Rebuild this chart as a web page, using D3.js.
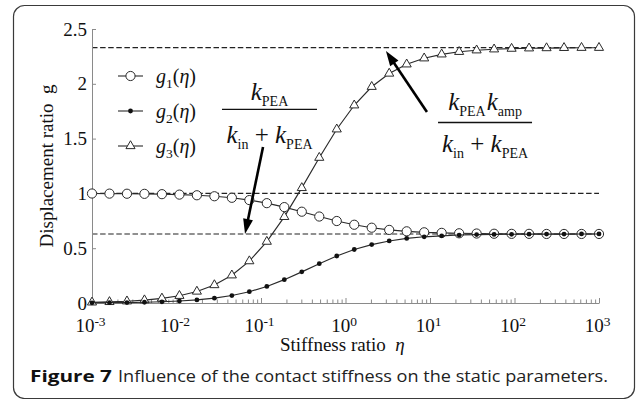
<!DOCTYPE html>
<html><head><meta charset="utf-8">
<script src="https://cdn.jsdelivr.net/npm/d3@7"></script>
<style>
html,body{margin:0;padding:0;background:#fff;}
svg{display:block;}
</style></head>
<body>
<svg id="chart" width="637" height="399"></svg>
<script>
// ---- data ----
const eta = [0.001, 0.00161, 0.002593, 0.004175, 0.006723, 0.01083, 0.01743, 0.02807, 0.0452, 0.07279,
  0.1172, 0.1887, 0.3039, 0.4894, 0.788, 1.269, 2.043, 3.29, 5.298, 8.532,
  13.74, 22.12, 35.62, 57.36, 92.37, 148.7, 239.5, 385.7, 621.0, 1000];
const g1 = [0.999, 0.998, 0.997, 0.996, 0.993, 0.989, 0.983, 0.974, 0.960, 0.939,
  0.911, 0.875, 0.833, 0.789, 0.748, 0.714, 0.687, 0.667, 0.654, 0.645,
  0.640, 0.636, 0.634, 0.632, 0.631, 0.631, 0.630, 0.630, 0.630, 0.630];
const g2 = [0.002, 0.003, 0.004, 0.007, 0.011, 0.018, 0.028, 0.044, 0.068, 0.103,
  0.151, 0.213, 0.284, 0.359, 0.429, 0.488, 0.533, 0.566, 0.589, 0.604,
  0.613, 0.620, 0.624, 0.626, 0.627, 0.628, 0.629, 0.629, 0.630, 0.630];
const g3 = [0.006, 0.010, 0.016, 0.026, 0.042, 0.066, 0.105, 0.164, 0.253, 0.382,
  0.560, 0.786, 1.050, 1.326, 1.585, 1.804, 1.973, 2.094, 2.178, 2.233,
  2.269, 2.292, 2.306, 2.315, 2.321, 2.324, 2.326, 2.328, 2.329, 2.329];
const refLevels = [2.33, 1.0, 0.63];
const yTicks = [0, 0.5, 1, 1.5, 2, 2.5];
const yTickLabels = ["0", "0.5", "1", "1.5", "2", "2.5"];
const xTicks = [1e-3, 1e-2, 1e-1, 1e0, 1e1, 1e2, 1e3];
const xTickExps = ["-3", "-2", "-1", "0", "1", "2", "3"];
const seriesNames = ["1", "2", "3"];
const captionBold = "Figure 7";
const captionText = "Influence of the contact stiffness on the static parameters.";

// ---- layout ----
const svg = d3.select("#chart");
const serif = "'Liberation Serif','Times New Roman',serif";
const x = d3.scaleLog().domain([1e-3, 1e3]).range([92, 599]);
const y = d3.scaleLinear().domain([0, 2.5]).range([303, 29]);
const axisColor = "#8a8a8a";

// border
svg.append("rect").attr("x", 13.5).attr("y", 5.5).attr("width", 621).attr("height", 393)
  .attr("rx", 11).attr("fill", "none").attr("stroke", "#3a3a3a").attr("stroke-width", 1.2);

// reference dashed lines
svg.append("g").selectAll("line").data(refLevels).join("line")
  .attr("x1", x(1e-3)).attr("x2", x(1e3))
  .attr("y1", d => y(d)).attr("y2", d => y(d))
  .attr("stroke", "#222").attr("stroke-width", 1.1).attr("stroke-dasharray", "5.5,2.6");

// axes
const yAxis = d3.axisLeft(y).tickValues(yTicks).tickFormat((d, i) => yTickLabels[i])
  .tickSizeInner(-4).tickSizeOuter(0).tickPadding(5);
const gy = svg.append("g").attr("transform", `translate(${x(1e-3)},0)`).call(yAxis);
gy.select(".domain").attr("stroke", axisColor);
gy.selectAll(".tick line").attr("stroke", axisColor);
gy.selectAll(".tick text").attr("font-family", serif).attr("font-size", 19).attr("fill", "#111");

const minor = [];
for (let e = -3; e < 3; e++) for (let m = 2; m <= 9; m++) minor.push(m * Math.pow(10, e));
const xMinor = d3.axisBottom(x).tickValues(minor).tickFormat("").tickSizeInner(-3.5).tickSizeOuter(0);
const gxm = svg.append("g").attr("transform", `translate(0,${y(0)})`).call(xMinor);
gxm.select(".domain").remove();
gxm.selectAll(".tick line").attr("stroke", axisColor);

const xAxis = d3.axisBottom(x).tickValues(xTicks).tickFormat("").tickSizeInner(-5).tickSizeOuter(0);
const gx = svg.append("g").attr("transform", `translate(0,${y(0)})`).call(xAxis);
gx.select(".domain").attr("stroke", axisColor);
gx.selectAll(".tick line").attr("stroke", axisColor);
gx.selectAll(".tick").each(function(d, i) {
  const t = d3.select(this).append("text").attr("y", 29).attr("dx", -2)
    .attr("text-anchor", "middle").attr("font-family", serif).attr("fill", "#111");
  t.append("tspan").attr("font-size", 19).text("10");
  t.append("tspan").attr("font-size", 13.5).attr("dy", -6).text(xTickExps[i]);
});

// axis titles
svg.append("text").attr("transform", "translate(53,166) rotate(-90)")
  .attr("text-anchor", "middle").attr("font-family", serif).attr("font-size", 19).attr("fill", "#111")
  .attr("xml:space", "preserve").text("Displacement ratio  g");
const xl = svg.append("text").attr("x", 280).attr("y", 351)
  .attr("font-family", serif).attr("font-size", 19).attr("fill", "#111").attr("xml:space", "preserve");
xl.append("tspan").text("Stiffness ratio  ");
xl.append("tspan").attr("font-style", "italic").text("η");

// series
const line = d3.line().x(d => x(d[0])).y(d => y(d[1]));
const lineColor = "#2a2a2a";
const tri = d3.symbol().type(d3.symbolTriangle).size(36);
function drawLine(vals) {
  svg.append("path").datum(eta.map((e, i) => [e, vals[i]])).attr("d", line)
    .attr("fill", "none").attr("stroke", lineColor).attr("stroke-width", 1.15);
}
drawLine(g3);
svg.append("g").selectAll("path").data(eta.map((e, i) => [e, g3[i]])).join("path")
  .attr("d", tri).attr("transform", d => `translate(${x(d[0])},${y(d[1])})`)
  .attr("fill", "#fff").attr("stroke", lineColor).attr("stroke-width", 1);
drawLine(g1);
svg.append("g").selectAll("circle").data(eta.map((e, i) => [e, g1[i]])).join("circle")
  .attr("cx", d => x(d[0])).attr("cy", d => y(d[1])).attr("r", 4.6)
  .attr("fill", "#fff").attr("stroke", lineColor).attr("stroke-width", 1);
drawLine(g2);
svg.append("g").selectAll("circle").data(eta.map((e, i) => [e, g2[i]])).join("circle")
  .attr("cx", d => x(d[0])).attr("cy", d => y(d[1])).attr("r", 2.4)
  .attr("fill", "#111");

// legend
const legY = [76, 111, 146];
const leg = svg.append("g");
seriesNames.forEach((n, i) => {
  const ly = legY[i];
  leg.append("line").attr("x1", 118).attr("x2", 143).attr("y1", ly).attr("y2", ly)
    .attr("stroke", lineColor).attr("stroke-width", 1.1);
  if (i === 0) leg.append("circle").attr("cx", 130.5).attr("cy", ly).attr("r", 4.6)
    .attr("fill", "#fff").attr("stroke", lineColor);
  if (i === 1) leg.append("circle").attr("cx", 130.5).attr("cy", ly).attr("r", 2.4).attr("fill", "#111");
  if (i === 2) leg.append("path").attr("d", tri).attr("transform", `translate(130.5,${ly})`)
    .attr("fill", "#fff").attr("stroke", lineColor);
  const t = leg.append("text").attr("x", 156).attr("y", ly + 6.5)
    .attr("font-family", serif).attr("font-size", 20).attr("fill", "#111");
  t.append("tspan").attr("font-style", "italic").text("g");
  t.append("tspan").attr("font-size", 13.5).attr("dy", 5).text(n);
  t.append("tspan").attr("dy", -5).text("(");
  t.append("tspan").attr("font-style", "italic").text("η");
  t.append("tspan").text(")");
});

// fraction annotations
function term(textSel, parts) {
  let shift = 0;
  parts.forEach(p => {
    const ts = textSel.append("tspan");
    if (p.sub) {
      ts.attr("font-size", 14).attr("dy", 6 - shift); shift = 6;
    } else {
      ts.attr("font-size", 25).attr("dy", -shift); shift = 0;
      if (p.it) ts.attr("font-style", "italic");
    }
    if (p.dx) ts.attr("dx", p.dx);
    ts.text(p.t);
  });
}
function fraction(cx, barY, x1, x2, num, den, numOff, denOff) {
  const g = svg.append("g");
  const nt = g.append("text").attr("x", cx).attr("y", barY - numOff).attr("text-anchor", "middle")
    .attr("font-family", serif).attr("fill", "#111").attr("xml:space", "preserve");
  term(nt, num);
  g.append("line").attr("x1", x1).attr("x2", x2).attr("y1", barY).attr("y2", barY)
    .attr("stroke", "#111").attr("stroke-width", 1.4);
  const dt = g.append("text").attr("x", cx).attr("y", barY + denOff).attr("text-anchor", "middle")
    .attr("font-family", serif).attr("fill", "#111").attr("xml:space", "preserve");
  term(dt, den);
}
const denParts = [{t: "k", it: true}, {t: "in", sub: true}, {t: " + "}, {t: "k", it: true}, {t: "PEA", sub: true}];
fraction(x(0.126), y(1.767), x(0.126) - 47.5, x(0.126) + 47.5,
  [{t: "k", it: true}, {t: "PEA", sub: true}], denParts, 9, 34);
fraction(x(44.8), y(1.647), x(44.8) - 47, x(44.8) + 47,
  [{t: "k", it: true}, {t: "PEA", sub: true}, {t: "k", it: true, dx: 1}, {t: "amp", sub: true}], denParts, 12.5, 29.5);

// arrows
function arrow(e0, v0, e1, v1) {
  const x0 = x(e0), y0 = y(v0), x1 = x(e1), y1 = y(v1);
  const a = Math.atan2(y1 - y0, x1 - x0), L = 15, W = 5;
  const bx = x1 - L * Math.cos(a), by = y1 - L * Math.sin(a);
  svg.append("line").attr("x1", x0).attr("y1", y0).attr("x2", bx + 2 * Math.cos(a)).attr("y2", by + 2 * Math.sin(a))
    .attr("stroke", "#000").attr("stroke-width", 2.6);
  svg.append("path").attr("d", `M${x1},${y1}L${bx - W * Math.sin(a)},${by + W * Math.cos(a)}L${bx + W * Math.sin(a)},${by - W * Math.cos(a)}Z`)
    .attr("fill", "#000");
}
arrow(0.1057, 1.423, 0.0647, 0.63);
arrow(9.2, 1.743, 3.01, 2.30);

// caption
svg.append("text").attr("x", 30).attr("y", 382).attr("font-family", "'Open Sans','Noto Sans',sans-serif")
  .attr("font-weight", "bold").attr("font-size", 15.5).attr("fill", "#111")
  .attr("textLength", 82).attr("lengthAdjust", "spacingAndGlyphs").text(captionBold);
svg.append("text").attr("x", 118).attr("y", 382).attr("font-family", "'Open Sans','Noto Sans',sans-serif")
  .attr("font-size", 15.5).attr("fill", "#222")
  .attr("textLength", 490).attr("lengthAdjust", "spacingAndGlyphs").text(captionText);
</script>
</body></html>
